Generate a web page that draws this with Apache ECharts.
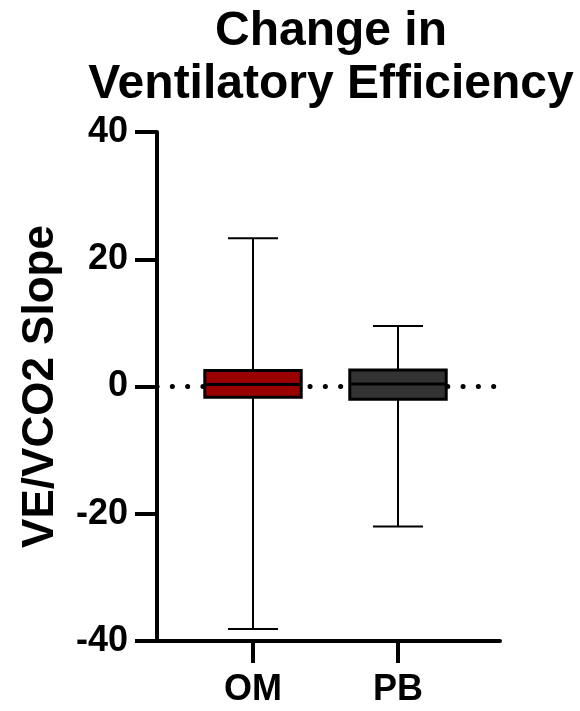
<!DOCTYPE html>
<html lang="en">

<head>
    <meta charset="UTF-8">
    <script src="https://cdn.jsdelivr.net/npm/echarts@6/dist/echarts.min.js"></script>
    <title>Change in Ventilatory Efficiency</title>
    <style>
        body { margin: 0; background: #fff; }
        #main { width: 580px; height: 711px; }
    </style>
</head>

<body>
    <div id="main"></div>

    <script>
        // box plot data
        var categories = ['OM', 'PB'];
        var mins = [-38.1, -22.0];
        var q1s = [-1.7, -2.0];
        var medians = [0.3, 0.4];
        var q3s = [2.5, 2.6];
        var maxs = [23.3, 9.5];
        var fills = ['#990000', '#333333'];
        var yTicks = { min: -40, max: 40, step: 20 };

        var font = 'Liberation Sans, Arial, sans-serif';

        var boxData = categories.map(function (c, i) {
            return [i, mins[i], q1s[i], medians[i], q3s[i], maxs[i]];
        });

        function renderBox(params, api) {
            var x = api.value(0);
            var lo = api.coord([x, api.value(1)]);
            var q1 = api.coord([x, api.value(2)]);
            var med = api.coord([x, api.value(3)]);
            var q3 = api.coord([x, api.value(4)]);
            var hi = api.coord([x, api.value(5)]);
            var band = api.size([1, 0])[0];
            var bw = band * 0.665, cw = band * 0.345;
            var cx = lo[0];
            var thin = { stroke: '#000', lineWidth: 2 };
            var thick = { stroke: '#000', lineWidth: 3 };
            return {
                type: 'group',
                children: [
                    { type: 'line', shape: { x1: cx, y1: hi[1], x2: cx, y2: lo[1] }, style: thin },
                    { type: 'line', shape: { x1: cx - cw / 2, y1: hi[1], x2: cx + cw / 2, y2: hi[1] }, style: thin },
                    { type: 'line', shape: { x1: cx - cw / 2, y1: lo[1], x2: cx + cw / 2, y2: lo[1] }, style: thin },
                    {
                        type: 'rect',
                        shape: { x: cx - bw / 2, y: q3[1], width: bw, height: q1[1] - q3[1] },
                        style: { fill: fills[params.dataIndex], stroke: '#000', lineWidth: 3 }
                    },
                    { type: 'line', shape: { x1: cx - bw / 2, y1: med[1], x2: cx + bw / 2, y2: med[1] }, style: thick }
                ]
            };
        }

        var myChart = echarts.init(document.getElementById('main'));

        var option = {
            animation: false,
            title: {
                text: 'Change in\nVentilatory Efficiency',
                left: 331,
                top: 5,
                padding: 0,
                textAlign: 'center',
                textStyle: {
                    fontFamily: font,
                    fontSize: 48,
                    fontWeight: 'bold',
                    lineHeight: 53,
                    color: '#000'
                }
            },
            grid: [
                { left: 157, right: 80, top: 132, bottom: 70 },
                { left: 180.5, right: 109.5, top: 132, bottom: 70 }
            ],
            xAxis: [
                {
                    gridIndex: 0,
                    type: 'value',
                    min: 0,
                    max: 1,
                    axisLine: { show: true, onZero: false, lineStyle: { color: '#000', width: 4 } },
                    axisTick: { show: false },
                    axisLabel: { show: false },
                    splitLine: { show: false }
                },
                {
                    gridIndex: 1,
                    type: 'category',
                    data: categories,
                    axisLine: { show: true, onZero: false, lineStyle: { color: 'rgba(0,0,0,0)', width: 0 } },
                    axisTick: { show: true, alignWithLabel: true, length: 22, lineStyle: { color: '#000', width: 4 } },
                    axisLabel: {
                        margin: 31,
                        fontFamily: font,
                        fontSize: 36,
                        fontWeight: 'bold',
                        color: '#000'
                    }
                }
            ],
            yAxis: [
                {
                    gridIndex: 0,
                    type: 'value',
                    min: yTicks.min,
                    max: yTicks.max,
                    interval: yTicks.step,
                    name: 'VE/VCO2 Slope',
                    nameLocation: 'middle',
                    nameGap: 94,
                    nameTextStyle: {
                        fontFamily: font,
                        fontSize: 44,
                        fontWeight: 'bold',
                        color: '#000'
                    },
                    axisLine: { show: true, onZero: false, lineStyle: { color: '#000', width: 4 } },
                    axisTick: { show: true, length: 22, lineStyle: { color: '#000', width: 4 } },
                    axisLabel: {
                        margin: 29,
                        fontFamily: font,
                        fontSize: 36,
                        fontWeight: 'bold',
                        color: '#000'
                    },
                    splitLine: { show: false }
                },
                {
                    gridIndex: 1,
                    type: 'value',
                    min: yTicks.min,
                    max: yTicks.max,
                    show: false
                }
            ],
            series: [
                {
                    // dotted zero line
                    type: 'line',
                    xAxisIndex: 0,
                    yAxisIndex: 0,
                    data: [],
                    z: 1,
                    markLine: {
                        silent: true,
                        symbol: 'none',
                        label: { show: false },
                        lineStyle: { color: '#000', width: 5, type: [0.1, 15.2], cap: 'round' },
                        data: [{ yAxis: 0 }]
                    }
                },
                {
                    type: 'custom',
                    xAxisIndex: 1,
                    yAxisIndex: 1,
                    z: 5,
                    renderItem: renderBox,
                    data: boxData
                }
            ]
        };

        myChart.setOption(option);
    </script>
</body>

</html>
